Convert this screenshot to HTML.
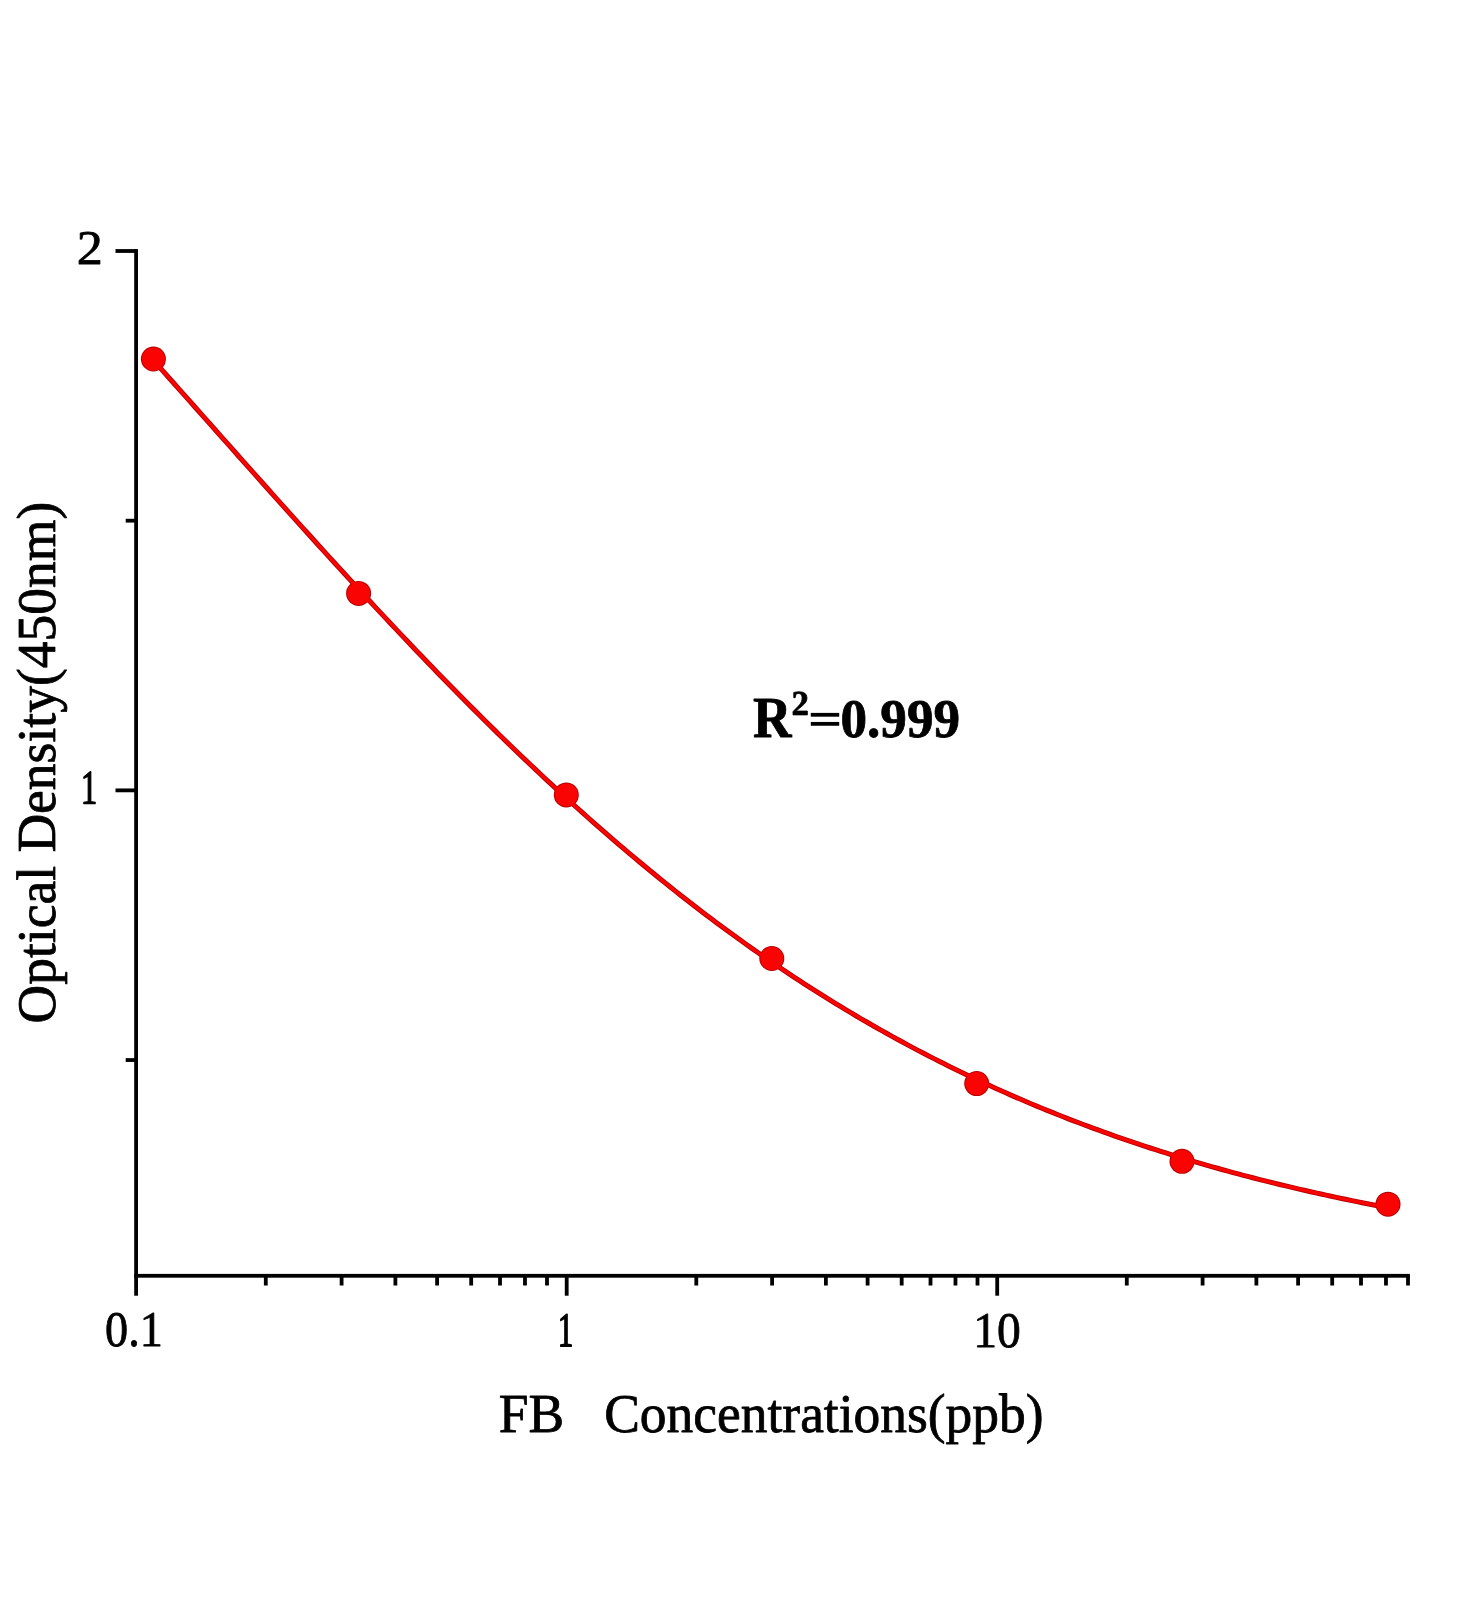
<!DOCTYPE html>
<html><head><meta charset="utf-8"><title>Chart</title>
<style>html,body{margin:0;padding:0;background:#fff;}svg{display:block;}</style></head>
<body><svg width="1472" height="1600" viewBox="0 0 1472 1600">
<rect x="0" y="0" width="1472" height="1600" fill="#fff"/>
<g fill="#000">
<rect x="134.20" y="249.10" width="3.8" height="1046.60"/>
<rect x="134.20" y="1273.90" width="1275.70" height="3.8"/>
<rect x="115.50" y="249.10" width="20.60" height="3.8"/>
<rect x="125.70" y="518.78" width="10.40" height="3.8"/>
<rect x="115.50" y="788.47" width="20.60" height="3.8"/>
<rect x="125.70" y="1058.15" width="10.40" height="3.8"/>
<rect x="263.89" y="1275.80" width="3.8" height="9.70"/>
<rect x="339.70" y="1275.80" width="3.8" height="9.70"/>
<rect x="393.49" y="1275.80" width="3.8" height="9.70"/>
<rect x="435.21" y="1275.80" width="3.8" height="9.70"/>
<rect x="469.29" y="1275.80" width="3.8" height="9.70"/>
<rect x="498.11" y="1275.80" width="3.8" height="9.70"/>
<rect x="523.08" y="1275.80" width="3.8" height="9.70"/>
<rect x="545.10" y="1275.80" width="3.8" height="9.70"/>
<rect x="564.80" y="1275.80" width="3.8" height="19.90"/>
<rect x="694.39" y="1275.80" width="3.8" height="9.70"/>
<rect x="770.20" y="1275.80" width="3.8" height="9.70"/>
<rect x="823.99" y="1275.80" width="3.8" height="9.70"/>
<rect x="865.71" y="1275.80" width="3.8" height="9.70"/>
<rect x="899.79" y="1275.80" width="3.8" height="9.70"/>
<rect x="928.61" y="1275.80" width="3.8" height="9.70"/>
<rect x="953.58" y="1275.80" width="3.8" height="9.70"/>
<rect x="975.60" y="1275.80" width="3.8" height="9.70"/>
<rect x="995.30" y="1275.80" width="3.8" height="19.90"/>
<rect x="1124.89" y="1275.80" width="3.8" height="9.70"/>
<rect x="1200.70" y="1275.80" width="3.8" height="9.70"/>
<rect x="1254.49" y="1275.80" width="3.8" height="9.70"/>
<rect x="1296.21" y="1275.80" width="3.8" height="9.70"/>
<rect x="1330.29" y="1275.80" width="3.8" height="9.70"/>
<rect x="1359.11" y="1275.80" width="3.8" height="9.70"/>
<rect x="1384.08" y="1275.80" width="3.8" height="9.70"/>
<rect x="1406.10" y="1275.80" width="3.8" height="9.70"/>
</g>
<path d="M153.40,360.35 L158.57,366.14 L163.73,371.93 L168.90,377.72 L174.06,383.52 L179.23,389.32 L184.39,395.13 L189.56,400.94 L194.73,406.75 L199.89,412.56 L205.06,418.38 L210.22,424.19 L215.39,430.00 L220.55,435.82 L225.72,441.63 L230.89,447.44 L236.05,453.25 L241.22,459.05 L246.38,464.85 L251.55,470.65 L256.71,476.45 L261.88,482.24 L267.05,488.02 L272.21,493.80 L277.38,499.57 L282.54,505.33 L287.71,511.09 L292.87,516.84 L298.04,522.58 L303.21,528.31 L308.37,534.04 L313.54,539.75 L318.70,545.45 L323.87,551.14 L329.03,556.82 L334.20,562.49 L339.36,568.15 L344.53,573.79 L349.70,579.42 L354.86,585.03 L360.03,590.63 L365.19,596.22 L370.36,601.79 L375.52,607.35 L380.69,612.89 L385.86,618.41 L391.02,623.92 L396.19,629.40 L401.35,634.88 L406.52,640.33 L411.68,645.76 L416.85,651.18 L422.02,656.57 L427.18,661.95 L432.35,667.31 L437.51,672.64 L442.68,677.96 L447.84,683.25 L453.01,688.52 L458.18,693.77 L463.34,699.00 L468.51,704.20 L473.67,709.38 L478.84,714.54 L484.00,719.68 L489.17,724.79 L494.34,729.87 L499.50,734.94 L504.67,739.97 L509.83,744.99 L515.00,749.97 L520.16,754.93 L525.33,759.87 L530.50,764.78 L535.66,769.66 L540.83,774.52 L545.99,779.35 L551.16,784.15 L556.32,788.93 L561.49,793.68 L566.66,798.40 L571.82,803.09 L576.99,807.76 L582.15,812.39 L587.32,817.00 L592.48,821.58 L597.65,826.13 L602.82,830.65 L607.98,835.15 L613.15,839.61 L618.31,844.05 L623.48,848.45 L628.64,852.83 L633.81,857.18 L638.97,861.50 L644.14,865.78 L649.31,870.04 L654.47,874.27 L659.64,878.47 L664.80,882.64 L669.97,886.78 L675.13,890.88 L680.30,894.96 L685.47,899.01 L690.63,903.03 L695.80,907.02 L700.96,910.97 L706.13,914.90 L711.29,918.80 L716.46,922.66 L721.63,926.50 L726.79,930.31 L731.96,934.08 L737.12,937.83 L742.29,941.54 L747.45,945.23 L752.62,948.88 L757.79,952.51 L762.95,956.10 L768.12,959.67 L773.28,963.20 L778.45,966.71 L783.61,970.18 L788.78,973.63 L793.95,977.04 L799.11,980.43 L804.28,983.78 L809.44,987.11 L814.61,990.41 L819.77,993.68 L824.94,996.91 L830.11,1000.12 L835.27,1003.30 L840.44,1006.46 L845.60,1009.58 L850.77,1012.67 L855.93,1015.74 L861.10,1018.78 L866.27,1021.78 L871.43,1024.76 L876.60,1027.72 L881.76,1030.64 L886.93,1033.54 L892.09,1036.41 L897.26,1039.25 L902.43,1042.06 L907.59,1044.85 L912.76,1047.61 L917.92,1050.34 L923.09,1053.05 L928.25,1055.73 L933.42,1058.38 L938.58,1061.00 L943.75,1063.60 L948.92,1066.18 L954.08,1068.73 L959.25,1071.25 L964.41,1073.74 L969.58,1076.22 L974.74,1078.66 L979.91,1081.08 L985.08,1083.48 L990.24,1085.85 L995.41,1088.19 L1000.57,1090.52 L1005.74,1092.81 L1010.90,1095.09 L1016.07,1097.34 L1021.24,1099.56 L1026.40,1101.76 L1031.57,1103.94 L1036.73,1106.10 L1041.90,1108.23 L1047.06,1110.34 L1052.23,1112.43 L1057.40,1114.49 L1062.56,1116.53 L1067.73,1118.55 L1072.89,1120.55 L1078.06,1122.53 L1083.22,1124.48 L1088.39,1126.42 L1093.56,1128.33 L1098.72,1130.22 L1103.89,1132.09 L1109.05,1133.94 L1114.22,1135.77 L1119.38,1137.57 L1124.55,1139.36 L1129.72,1141.13 L1134.88,1142.88 L1140.05,1144.60 L1145.21,1146.31 L1150.38,1148.00 L1155.54,1149.67 L1160.71,1151.32 L1165.88,1152.96 L1171.04,1154.57 L1176.21,1156.17 L1181.37,1157.74 L1186.54,1159.30 L1191.70,1160.84 L1196.87,1162.36 L1202.04,1163.87 L1207.20,1165.36 L1212.37,1166.83 L1217.53,1168.28 L1222.70,1169.72 L1227.86,1171.14 L1233.03,1172.54 L1238.19,1173.93 L1243.36,1175.30 L1248.53,1176.65 L1253.69,1177.99 L1258.86,1179.31 L1264.02,1180.62 L1269.19,1181.91 L1274.35,1183.19 L1279.52,1184.45 L1284.69,1185.69 L1289.85,1186.92 L1295.02,1188.14 L1300.18,1189.34 L1305.35,1190.53 L1310.51,1191.70 L1315.68,1192.86 L1320.85,1194.01 L1326.01,1195.14 L1331.18,1196.26 L1336.34,1197.36 L1341.51,1198.45 L1346.67,1199.53 L1351.84,1200.59 L1357.01,1201.64 L1362.17,1202.68 L1367.34,1203.71 L1372.50,1204.72 L1377.67,1205.72 L1382.83,1206.71 L1388.00,1207.69" fill="none" stroke="#b40000" stroke-width="5.0" stroke-linejoin="round" stroke-linecap="round"/>
<circle cx="153.4" cy="359.0" r="12.5" fill="#b40000"/>
<circle cx="358.6" cy="593.4" r="12.5" fill="#b40000"/>
<circle cx="566.3" cy="794.9" r="12.5" fill="#b40000"/>
<circle cx="771.8" cy="958.5" r="12.5" fill="#b40000"/>
<circle cx="976.7" cy="1083.6" r="12.5" fill="#b40000"/>
<circle cx="1182.0" cy="1161.3" r="12.5" fill="#b40000"/>
<circle cx="1388.0" cy="1204.2" r="12.5" fill="#b40000"/>
<path d="M153.40,360.35 L158.57,366.14 L163.73,371.93 L168.90,377.72 L174.06,383.52 L179.23,389.32 L184.39,395.13 L189.56,400.94 L194.73,406.75 L199.89,412.56 L205.06,418.38 L210.22,424.19 L215.39,430.00 L220.55,435.82 L225.72,441.63 L230.89,447.44 L236.05,453.25 L241.22,459.05 L246.38,464.85 L251.55,470.65 L256.71,476.45 L261.88,482.24 L267.05,488.02 L272.21,493.80 L277.38,499.57 L282.54,505.33 L287.71,511.09 L292.87,516.84 L298.04,522.58 L303.21,528.31 L308.37,534.04 L313.54,539.75 L318.70,545.45 L323.87,551.14 L329.03,556.82 L334.20,562.49 L339.36,568.15 L344.53,573.79 L349.70,579.42 L354.86,585.03 L360.03,590.63 L365.19,596.22 L370.36,601.79 L375.52,607.35 L380.69,612.89 L385.86,618.41 L391.02,623.92 L396.19,629.40 L401.35,634.88 L406.52,640.33 L411.68,645.76 L416.85,651.18 L422.02,656.57 L427.18,661.95 L432.35,667.31 L437.51,672.64 L442.68,677.96 L447.84,683.25 L453.01,688.52 L458.18,693.77 L463.34,699.00 L468.51,704.20 L473.67,709.38 L478.84,714.54 L484.00,719.68 L489.17,724.79 L494.34,729.87 L499.50,734.94 L504.67,739.97 L509.83,744.99 L515.00,749.97 L520.16,754.93 L525.33,759.87 L530.50,764.78 L535.66,769.66 L540.83,774.52 L545.99,779.35 L551.16,784.15 L556.32,788.93 L561.49,793.68 L566.66,798.40 L571.82,803.09 L576.99,807.76 L582.15,812.39 L587.32,817.00 L592.48,821.58 L597.65,826.13 L602.82,830.65 L607.98,835.15 L613.15,839.61 L618.31,844.05 L623.48,848.45 L628.64,852.83 L633.81,857.18 L638.97,861.50 L644.14,865.78 L649.31,870.04 L654.47,874.27 L659.64,878.47 L664.80,882.64 L669.97,886.78 L675.13,890.88 L680.30,894.96 L685.47,899.01 L690.63,903.03 L695.80,907.02 L700.96,910.97 L706.13,914.90 L711.29,918.80 L716.46,922.66 L721.63,926.50 L726.79,930.31 L731.96,934.08 L737.12,937.83 L742.29,941.54 L747.45,945.23 L752.62,948.88 L757.79,952.51 L762.95,956.10 L768.12,959.67 L773.28,963.20 L778.45,966.71 L783.61,970.18 L788.78,973.63 L793.95,977.04 L799.11,980.43 L804.28,983.78 L809.44,987.11 L814.61,990.41 L819.77,993.68 L824.94,996.91 L830.11,1000.12 L835.27,1003.30 L840.44,1006.46 L845.60,1009.58 L850.77,1012.67 L855.93,1015.74 L861.10,1018.78 L866.27,1021.78 L871.43,1024.76 L876.60,1027.72 L881.76,1030.64 L886.93,1033.54 L892.09,1036.41 L897.26,1039.25 L902.43,1042.06 L907.59,1044.85 L912.76,1047.61 L917.92,1050.34 L923.09,1053.05 L928.25,1055.73 L933.42,1058.38 L938.58,1061.00 L943.75,1063.60 L948.92,1066.18 L954.08,1068.73 L959.25,1071.25 L964.41,1073.74 L969.58,1076.22 L974.74,1078.66 L979.91,1081.08 L985.08,1083.48 L990.24,1085.85 L995.41,1088.19 L1000.57,1090.52 L1005.74,1092.81 L1010.90,1095.09 L1016.07,1097.34 L1021.24,1099.56 L1026.40,1101.76 L1031.57,1103.94 L1036.73,1106.10 L1041.90,1108.23 L1047.06,1110.34 L1052.23,1112.43 L1057.40,1114.49 L1062.56,1116.53 L1067.73,1118.55 L1072.89,1120.55 L1078.06,1122.53 L1083.22,1124.48 L1088.39,1126.42 L1093.56,1128.33 L1098.72,1130.22 L1103.89,1132.09 L1109.05,1133.94 L1114.22,1135.77 L1119.38,1137.57 L1124.55,1139.36 L1129.72,1141.13 L1134.88,1142.88 L1140.05,1144.60 L1145.21,1146.31 L1150.38,1148.00 L1155.54,1149.67 L1160.71,1151.32 L1165.88,1152.96 L1171.04,1154.57 L1176.21,1156.17 L1181.37,1157.74 L1186.54,1159.30 L1191.70,1160.84 L1196.87,1162.36 L1202.04,1163.87 L1207.20,1165.36 L1212.37,1166.83 L1217.53,1168.28 L1222.70,1169.72 L1227.86,1171.14 L1233.03,1172.54 L1238.19,1173.93 L1243.36,1175.30 L1248.53,1176.65 L1253.69,1177.99 L1258.86,1179.31 L1264.02,1180.62 L1269.19,1181.91 L1274.35,1183.19 L1279.52,1184.45 L1284.69,1185.69 L1289.85,1186.92 L1295.02,1188.14 L1300.18,1189.34 L1305.35,1190.53 L1310.51,1191.70 L1315.68,1192.86 L1320.85,1194.01 L1326.01,1195.14 L1331.18,1196.26 L1336.34,1197.36 L1341.51,1198.45 L1346.67,1199.53 L1351.84,1200.59 L1357.01,1201.64 L1362.17,1202.68 L1367.34,1203.71 L1372.50,1204.72 L1377.67,1205.72 L1382.83,1206.71 L1388.00,1207.69" fill="none" stroke="#fa0303" stroke-width="3.2" stroke-linejoin="round" stroke-linecap="round"/>
<circle cx="153.4" cy="359.0" r="11.5" fill="#fa0303"/>
<circle cx="358.6" cy="593.4" r="11.5" fill="#fa0303"/>
<circle cx="566.3" cy="794.9" r="11.5" fill="#fa0303"/>
<circle cx="771.8" cy="958.5" r="11.5" fill="#fa0303"/>
<circle cx="976.7" cy="1083.6" r="11.5" fill="#fa0303"/>
<circle cx="1182.0" cy="1161.3" r="11.5" fill="#fa0303"/>
<circle cx="1388.0" cy="1204.2" r="11.5" fill="#fa0303"/>
<g font-family="Liberation Serif, serif" fill="#000" stroke="#000" stroke-width="0.8" stroke-linejoin="round">
<text xml:space="preserve" style="white-space:pre" transform="translate(76.71,264.20) scale(1.0687,1)" font-size="48.78" font-weight="normal">2</text>
<path transform="translate(80.80,803.60) scale(0.016089,-0.023521)" stroke-width="59.52" d="M627 80 901 53V0H180V53L455 80V1174L184 1077V1130L575 1352H627Z"/>
<text xml:space="preserve" style="white-space:pre" transform="translate(105.04,1346.29) scale(0.9226,1)" font-size="50.06" font-weight="normal">0.1</text>
<path transform="translate(557.75,1346.20) scale(0.015257,-0.023706)" stroke-width="59.06" d="M627 80 901 53V0H180V53L455 80V1174L184 1077V1130L575 1352H627Z"/>
<text xml:space="preserve" style="white-space:pre" transform="translate(973.32,1346.81) scale(0.9488,1)" font-size="50.16" font-weight="normal">10</text>
<text xml:space="preserve" style="white-space:pre" transform="translate(498.76,1431.52) scale(0.9743,1)" font-size="54.87" font-weight="normal">FB   Concentrations(ppb)</text>
<text transform="translate(55.08,1023.40) rotate(-90) scale(0.9776,1)" font-size="54.75">Optical Density(450nm)</text>
<text xml:space="preserve" style="white-space:pre" transform="translate(753.09,737.30) scale(0.9445,1)" font-size="56.51" font-weight="bold">R</text>
<path transform="translate(791.54,714.90) scale(0.016941,-0.017072)" stroke-width="46.86" d="M936 0H86V189Q172 281 245 354Q405 512 479.0 602.5Q553 693 587.5 790.0Q622 887 622 1011Q622 1120 569.0 1187.0Q516 1254 428 1254Q366 1254 329.0 1241.0Q292 1228 261 1202L218 1008H131V1313Q211 1331 287.5 1343.5Q364 1356 454 1356Q675 1356 792.5 1265.0Q910 1174 910 1006Q910 901 875.0 815.5Q840 730 764.5 649.0Q689 568 464 385Q378 315 278 226H936Z"/>
<text xml:space="preserve" style="white-space:pre" transform="translate(840.47,737.21) scale(0.9505,1)" font-size="55.95" font-weight="bold">0.999</text>
<rect x="810.8" y="712.9" width="28.4" height="3.8" stroke="none"/>
<rect x="810.8" y="721.95" width="28.4" height="3.8" stroke="none"/>
</g>
</svg></body></html>
